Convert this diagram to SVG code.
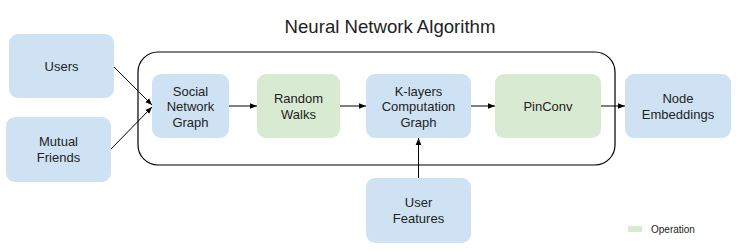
<svg xmlns="http://www.w3.org/2000/svg" width="741" height="251" viewBox="0 0 741 251">
  <style>
    .data { fill: #cfe2f3; }
    .op { fill: #d9ead3; }
    text { font-family: "Liberation Sans", Arial, sans-serif; fill: #222; }
    .lbl { font-size: 13px; text-anchor: middle; }
    .title { font-size: 18.6px; text-anchor: middle; }
    .conn { stroke: #000; stroke-width: 1; fill: none; marker-end: url(#arrow); }
  </style>
  <defs>
    <marker id="arrow" viewBox="0 0 10 10" refX="10" refY="5" markerWidth="7" markerHeight="7" markerUnits="userSpaceOnUse" orient="auto">
      <path d="M0,1 L10,5 L0,9 z" fill="#000"/>
    </marker>
  </defs>

  <rect width="741" height="251" fill="#fff"/>

  <text class="title" x="390" y="33">Neural Network Algorithm</text>

  <!-- algorithm boundary -->
  <rect id="container" x="138" y="52" width="477" height="113" rx="20" fill="none" stroke="#000" stroke-width="1.2"/>

  <g id="users">
    <rect class="data" x="9" y="34" width="105" height="64" rx="9"/>
    <text class="lbl" x="61.5" y="71">Users</text>
  </g>
  <g id="mutual-friends">
    <rect class="data" x="6" y="117" width="105" height="65" rx="9"/>
    <text class="lbl" x="58.5" y="146">Mutual</text>
    <text class="lbl" x="58.5" y="161.5">Friends</text>
  </g>
  <g id="social-network-graph">
    <rect class="data" x="152" y="74" width="77" height="64" rx="9"/>
    <text class="lbl" x="190.5" y="95.5">Social</text>
    <text class="lbl" x="190.5" y="111">Network</text>
    <text class="lbl" x="190.5" y="126.5">Graph</text>
  </g>
  <g id="random-walks">
    <rect class="op" x="257" y="74" width="83" height="64" rx="9"/>
    <text class="lbl" x="298.5" y="103">Random</text>
    <text class="lbl" x="298.5" y="118.5">Walks</text>
  </g>
  <g id="k-layers">
    <rect class="data" x="366" y="74" width="105" height="64" rx="9"/>
    <text class="lbl" x="418.5" y="95.5">K-layers</text>
    <text class="lbl" x="418.5" y="111">Computation</text>
    <text class="lbl" x="418.5" y="126.5">Graph</text>
  </g>
  <g id="pinconv">
    <rect class="op" x="495" y="74" width="106" height="64" rx="9"/>
    <text class="lbl" x="548" y="111">PinConv</text>
  </g>
  <g id="node-embeddings">
    <rect class="data" x="625" y="74" width="106" height="64" rx="9"/>
    <text class="lbl" x="678" y="103">Node</text>
    <text class="lbl" x="678" y="118.5">Embeddings</text>
  </g>
  <g id="user-features">
    <rect class="data" x="366" y="178" width="105" height="65" rx="9"/>
    <text class="lbl" x="418.5" y="207">User</text>
    <text class="lbl" x="418.5" y="222.5">Features</text>
  </g>

  <g id="connectors">
    <line class="conn" x1="114" y1="67" x2="152" y2="105"/>
    <line class="conn" x1="111" y1="149" x2="152" y2="107"/>
    <line class="conn" x1="229" y1="106" x2="257" y2="106"/>
    <line class="conn" x1="340" y1="106" x2="366" y2="106"/>
    <line class="conn" x1="471" y1="106" x2="495" y2="106"/>
    <line class="conn" x1="601" y1="106" x2="625" y2="106"/>
    <line class="conn" x1="418.5" y1="178" x2="418.5" y2="138"/>
  </g>

  <g id="legend">
    <rect class="op" x="628" y="226" width="14" height="6"/>
    <text x="651" y="233" font-size="10">Operation</text>
  </g>
</svg>
